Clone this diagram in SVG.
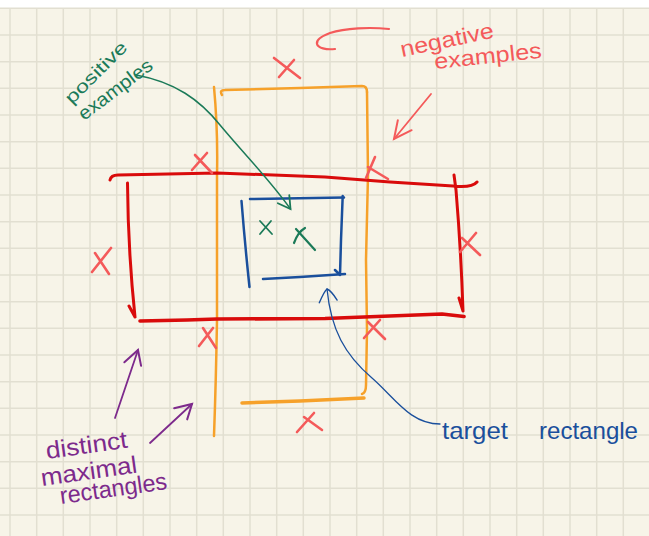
<svg xmlns="http://www.w3.org/2000/svg" width="649" height="536" viewBox="0 0 649 536">
<style>
.grid{stroke:#e2dfd1;stroke-width:1.5;fill:none}
.red{stroke:#d90b0b;stroke-width:3;fill:none;stroke-linecap:round;stroke-linejoin:round}
.orange{stroke:#f6a12a;stroke-width:2.5;fill:none;stroke-linecap:round;stroke-linejoin:round}
.blue{stroke:#1a4f9c;stroke-width:2.5;fill:none;stroke-linecap:round;stroke-linejoin:round}
.x{stroke:#f45a5a;stroke-width:2.6;fill:none;stroke-linecap:round}
.gx{stroke:#1b7a58;stroke-width:2.2;fill:none;stroke-linecap:round}
.conn{fill:none;stroke-linecap:round;stroke-linejoin:round}
.hand{font-family:"Liberation Sans","DejaVu Sans",sans-serif}
</style>
<defs>
<marker id="mGreen" markerUnits="userSpaceOnUse" markerWidth="30" markerHeight="30" refX="0" refY="0" viewBox="-15 -15 30 30" orient="auto" overflow="visible"><path d="M-12,-7 L0,0 L-12,7" fill="none" stroke="#1b7a58" stroke-width="1.8" stroke-linecap="round"/></marker>
<marker id="mRed" markerUnits="userSpaceOnUse" markerWidth="40" markerHeight="40" refX="0" refY="0" viewBox="-20 -20 40 40" orient="auto" overflow="visible"><path d="M-18,-8 L0,0 L-17,9" fill="none" stroke="#f45a5a" stroke-width="2" stroke-linecap="round"/></marker>
<marker id="mPurple" markerUnits="userSpaceOnUse" markerWidth="40" markerHeight="40" refX="0" refY="0" viewBox="-20 -20 40 40" orient="auto" overflow="visible"><path d="M-16,-9 L0,0 L-14,8" fill="none" stroke="#7d2a8c" stroke-width="2" stroke-linecap="round"/></marker>
<marker id="mBlue" markerUnits="userSpaceOnUse" markerWidth="40" markerHeight="40" refX="0" refY="0" viewBox="-20 -20 40 40" orient="auto-start-reverse" overflow="visible"><path d="M-13,-9 Q-2,-3 0,0 Q-2,4 -12,9" fill="none" stroke="#1a4f9c" stroke-width="1.4" stroke-linecap="round"/></marker>
</defs>

<g id="paper">
<rect x="0" y="0" width="649" height="536" fill="#f7f4e8"/>
<rect x="0" y="0" width="649" height="8" fill="#ffffff"/>
<path class="grid" d="M10 8V536M36.7 8V536M63.3 8V536M90 8V536M116.7 8V536M143.3 8V536M170 8V536M196.7 8V536M223.3 8V536M250 8V536M276.7 8V536M303.3 8V536M330 8V536M356.7 8V536M383.3 8V536M410 8V536M436.7 8V536M463.3 8V536M490 8V536M516.7 8V536M543.3 8V536M570 8V536M596.7 8V536M623.3 8V536M0 8.3H649M0 35H649M0 61.7H649M0 88.3H649M0 115H649M0 141.7H649M0 168.3H649M0 195H649M0 221.7H649M0 248.3H649M0 275H649M0 301.7H649M0 328.3H649M0 355H649M0 381.7H649M0 408.3H649M0 435H649M0 461.7H649M0 488.3H649M0 515H649"/>
</g>

<g id="orange-rectangle">
<path class="orange" d="M214,87 Q218,130 217,175 L217,320 Q216,380 214,436"/>
<path class="orange" d="M222,95 Q219,90 225,90 L300,88 L362,86 Q367,86 367,92"/>
<path class="orange" d="M367,92 L368,175 L366,260 L367,330 L366,385 Q366,393 362,394"/>
<path class="orange" style="stroke-width:3.5" d="M242,403 L300,401 L364,398"/>
</g>

<g id="red-rectangle">
<path class="red" d="M110,180 Q111,175 118,175 L217,173 L325,177 L390,182 L453,186 Q472,188 477,182"/>
<path class="red" d="M127.5,183 Q128,250 135,317 M129,306 L135,317"/>
<path class="red" d="M454,175 L456,190 Q461,250 463,311 M459,298 L463,311"/>
<path class="red" style="stroke-width:3.6" d="M140,321 L187,320 L217,319 L325,318.5 L442,314 L464,316.5"/>
</g>

<g id="target-rectangle">
<path class="blue" d="M241.5,201 Q245,245 249.5,287"/>
<path class="blue" d="M250,199 L344,197.5"/>
<path class="blue" d="M342.7,196 L341,240 L340,275 M335,270 L340,275"/>
<path class="blue" d="M263,279 L300,277 L345,274"/>
</g>

<g id="positive-examples-marks">
<path class="gx" style="stroke-width:1.8" d="M260,221 L272,234 M260,234 L271,221"/>
<path class="gx" d="M294,243 Q298,232 305,228 M296,229 L315,250"/>
</g>

<g id="negative-examples-marks">
<path class="x" d="M274,58 L300,78 M279,77 L294,60"/>
<path class="x" d="M192,170 L207,153 M195,155 L212,173"/>
<path class="x" d="M366,178 L375,157 M368,167 L388,179"/>
<path class="x" d="M92,272 L111,248 M95,253 L109,274"/>
<path class="x" d="M460,252 L476,233 M462,238 L480,255"/>
<path class="x" d="M199,346 L213,328 M203,328 L216,348"/>
<path class="x" d="M364,338 L380,320 M368,322 L385,339"/>
<path class="x" d="M297,432 L314,413 M304,417 L322,430"/>
</g>

<g id="label-negative-examples" class="hand" fill="#f45a5a">
<text x="402" y="57" font-size="22" transform="rotate(-12 402 57)" textLength="95" lengthAdjust="spacingAndGlyphs">negative</text>
<text x="435" y="69" font-size="22" transform="rotate(-6 435 69)" textLength="108" lengthAdjust="spacingAndGlyphs">examples</text>
</g>

<g id="label-positive-examples" class="hand" fill="#1b7a58">
<text x="72" y="105" font-size="18" transform="rotate(-45 72 105)" textLength="80" lengthAdjust="spacingAndGlyphs">positive</text>
<text x="84" y="121" font-size="19" transform="rotate(-37 84 121)" textLength="88" lengthAdjust="spacingAndGlyphs">examples</text>
</g>

<g id="label-target-rectangle" class="hand" fill="#1a4f9c">
<text x="442" y="439" font-size="24" textLength="66" lengthAdjust="spacingAndGlyphs">target</text>
<text x="539" y="439" font-size="24" textLength="99" lengthAdjust="spacingAndGlyphs">rectangle</text>
</g>

<g id="label-distinct-maximal-rectangles" class="hand" fill="#7d2a8c">
<text x="47" y="459" font-size="24" transform="rotate(-8 47 459)" textLength="82" lengthAdjust="spacingAndGlyphs">distinct</text>
<text x="42" y="486" font-size="24" transform="rotate(-8 42 486)" textLength="97" lengthAdjust="spacingAndGlyphs">maximal</text>
<text x="61" y="504" font-size="24" transform="rotate(-8 61 504)" textLength="108" lengthAdjust="spacingAndGlyphs">rectangles</text>
</g>

<g id="connectors">
<path class="conn" stroke="#1b7a58" stroke-width="1.5" d="M136,75 C175,82 200,100 220,125 C245,155 270,180 290.5,209" marker-end="url(#mGreen)"/>
<path class="conn" stroke="#f45a5a" stroke-width="2.2" d="M389,29 C370,27 345,28 330,33 C322,36 316,40 317,44 C318,48 326,50 335,49"/>
<path class="conn" stroke="#f45a5a" stroke-width="1.8" d="M431,94 L394,139" marker-end="url(#mRed)"/>
<path class="conn" stroke="#1a4f9c" stroke-width="1.3" d="M327,289 C331,330 345,355 372,378 C395,398 410,424 440,424" marker-start="url(#mBlue)"/>
<path class="conn" stroke="#7d2a8c" stroke-width="1.8" d="M115,418 L138,350" marker-end="url(#mPurple)"/>
<path class="conn" stroke="#7d2a8c" stroke-width="1.8" d="M150,443 L192,404" marker-end="url(#mPurple)"/>
</g>
</svg>
